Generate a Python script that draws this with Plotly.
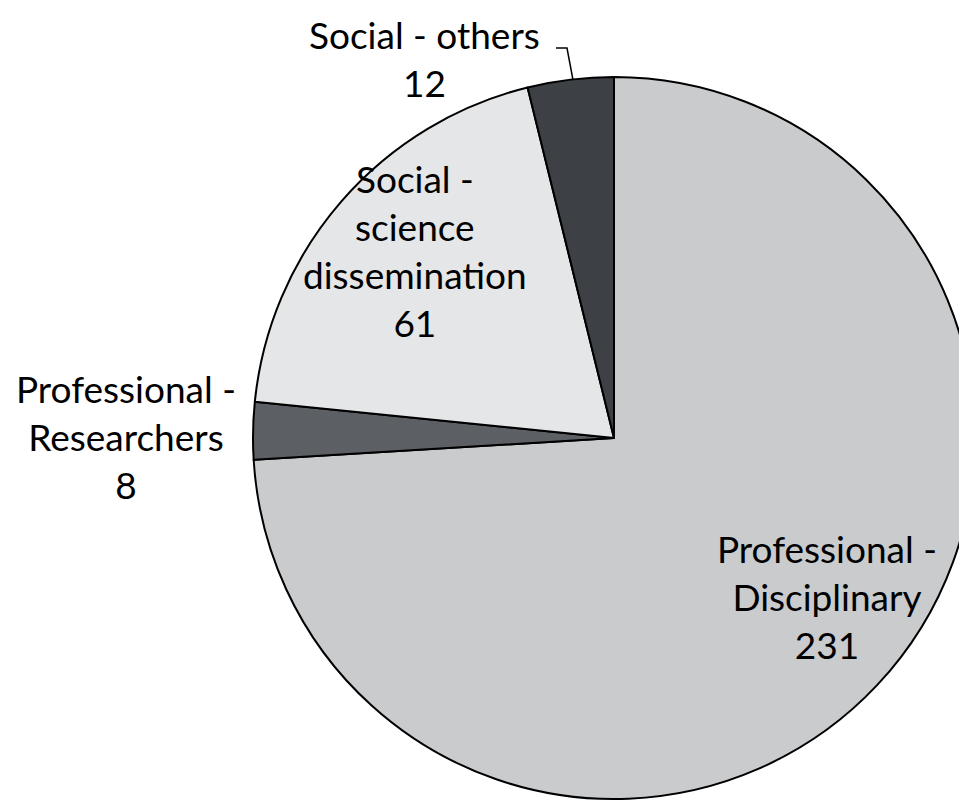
import plotly.graph_objects as go

labels = ["Professional - Disciplinary", "Professional - Researchers",
          "Social - science dissemination", "Social - others"]
values = [231, 8, 61, 12]
colors = ["#c9cbcd", "#5c5f64", "#e5e6e7", "#3d4045"]

# label text split across lines as in the original
label_lines = ["Professional -<br>Disciplinary", "Professional -<br>Researchers",
               "Social -<br>science<br>dissemination", "Social - others"]

W, H = 967, 803
OFF = 8  # page body margin shifts the figure by 8px


def px(x):
    return (x - OFF) / W


def py(y):
    return 1 - (y - OFF) / H


fig = go.Figure(go.Pie(
    labels=labels,
    values=values,
    sort=False,
    direction="clockwise",
    rotation=0,
    marker=dict(colors=colors, line=dict(color="black", width=2)),
    textinfo="none",
    hoverinfo="label+value",
    showlegend=False,
    domain=dict(x=[245 / W, 1.0], y=[12 / H, 734 / H]),
))

# label block centres on screen (x, y)
label_pos = [(827, 596), (126, 436), (415, 250), (424, 58)]
for txt, v, (lx, ly) in zip(label_lines, values, label_pos):
    fig.add_annotation(
        x=px(lx), y=py(ly), xref="paper", yref="paper",
        text=f"{txt}<br>{v}", showarrow=False,
        font=dict(family="Lato", size=37, color="black"),
        align="center", xanchor="center", yanchor="middle",
    )

# leader line for Social - others
fig.add_shape(
    type="path", xref="paper", yref="paper",
    path=f"M {px(556)} {py(48)} L {px(567)} {py(48)} L {px(573)} {py(80)}",
    line=dict(color="black", width=1.5),
)

fig.update_layout(
    width=W, height=H,
    margin=dict(l=0, r=0, t=0, b=0),
    paper_bgcolor="white",
    plot_bgcolor="white",
)

fig.write_html("out.html")
